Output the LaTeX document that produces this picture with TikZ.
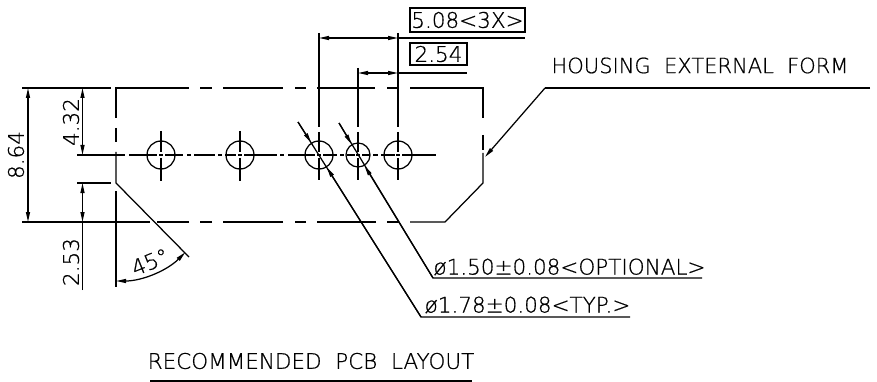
\documentclass[tikz,border=0pt]{standalone}
\usepackage{fontspec}
\setmainfont{DejaVu Sans ExtraLight}[AutoFakeBold=0.7]
\usetikzlibrary{arrows.meta}
\tikzset{
    tip/.style={-{Stealth[inset=0pt,length=10pt,width=4pt]}},
    both/.style={{Stealth[inset=0pt,length=10pt,width=4pt]}-{Stealth[inset=0pt,length=10pt,width=4pt]}},
    hole/.style={circle, draw, inner sep=0pt, minimum size=28pt},
    label/.style={inner sep=0pt, font=\fontsize{21.5}{21.5}\bfseries}
}
\begin{document}
\begin{tikzpicture}[x=1pt, y=-1pt, line width=1.25pt]
    \useasboundingbox (0,0) rectangle (877,382);

    % Fori
    \node (H1) at (161,155) [hole] {};
    \node (H2) at (240,155) [hole] {};
    \node (H3) at (319,155) [hole] {};
    \node (H4) at (358,155) [hole, minimum size=24pt] {};
    \node (H5) at (398,155) [hole] {};

    % Sagoma esterna
    \draw (116,118) -- (116,88) -- (189,88);
    \draw (200,88) -- (212,88);
    \draw (223,88) -- (283,88);
    \draw (295,88) -- (306,88);
    \draw (317,88) -- (375,88);
    \draw (387,88) -- (399,88);
    \draw (410,88) -- (483,88) -- (483,118);
    \draw (483,135) -- (483,150);
    \draw (483,153) -- (483,183) -- (445,222) -- (410,222);
    \draw (399,222) -- (387,222);
    \draw (376,222) -- (317,222);
    \draw (306,222) -- (295,222);
    \draw (283,222) -- (223,222);
    \draw (212,222) -- (200,222);
    \draw (189,222) -- (157,222);
    \draw (150,222) -- (22,222);
    \draw (116,128) -- (116,142);
    \draw (116,152) -- (116,183) -- (189,257);
    \draw (116,191) -- (116,287);

    % Asse dei fori
    \draw (77,155) -- (125,155);
    \draw (129,155) -- (157,155);
    \draw (159,155) -- (163,155);
    \draw (165,155) -- (183,155);
    \draw (187,155) -- (191,155);
    \draw (194,155) -- (215,155);
    \draw (218,155) -- (222,155);
    \draw (225,155) -- (236,155);
    \draw (238,155) -- (242,155);
    \draw (244,155) -- (277,155);
    \draw (280,155) -- (284,155);
    \draw (288,155) -- (315,155);
    \draw (317,155) -- (321,155);
    \draw (323,155) -- (337,155);
    \draw (340,155) -- (344,155);
    \draw (347,155) -- (355,155);
    \draw (356,155) -- (360,155);
    \draw (362,155) -- (370,155);
    \draw (373,155) -- (378,155);
    \draw (381,155) -- (395,155);
    \draw (396,155) -- (400,155);
    \draw (402,155) -- (436,155);

    % Assi verticali
    \draw (161,131) -- (161,152);
    \draw (161,158) -- (161,181);
    \draw (240,131) -- (240,152);
    \draw (240,158) -- (240,181);
    \draw (319,33) -- (319,127);
    \draw (319,132) -- (319,152);
    \draw (319,158) -- (319,180);
    \draw (358,68) -- (358,127);
    \draw (358,132) -- (358,152);
    \draw (358,158) -- (358,180);
    \draw (398,33) -- (398,127);
    \draw (398,132) -- (398,152);
    \draw (398,158) -- (398,180);

    % Quote
    \draw (22,88) -- (111,88);
    \draw [both] (28,88) -- (28,222);
    \draw [both] (82.5,88) -- (82.5,155);
    \draw (77,183) -- (111,183);
    \draw [both] (82.5,222) -- (82.5,183);
    \draw (82.5,290) -- (82.5,222);
    \draw [both] (116,281) arc (90:45:98);
    \draw [both] (319,38) -- (398,38);
    \draw (398,38) -- (525,38);
    \draw [both] (358,73) -- (398,73);
    \draw (398,73) -- (467,73);

    % Richiami
    \coordinate (L1) at (298,122);
    \coordinate (L2) at (421,317);
    \coordinate (L3) at (630,317);
    \coordinate (L4) at (339,123);
    \coordinate (L5) at (433,278);
    \coordinate (L6) at (702,278);
    \draw [tip] (L1) -- (H3);
    \draw [tip] (L2) -- (H3);
    \draw (L1) -- (L2) -- (L3);
    \draw [tip] (L4) -- (H4);
    \draw [tip] (L5) -- (H4);
    \draw (L4) -- (L5) -- (L6);
    \coordinate (L7) at (870,88);
    \coordinate (L8) at (545,88);
    \coordinate (L9) at (485,157);
    \draw (L7) -- (L8);
    \draw [tip] (L8) -- (L9);
    \draw (150,381) -- (472,381);

    % Testi
    \node (T864) at (16,155) [label, rotate=90] {8.64};
    \node (T432) at (71,122) [label, rotate=90] {4.32};
    \node (T253) at (71,262) [label, rotate=90] {2.53};
    \node (T45) at (150,262) [label, rotate=22] {45°};
    \node (T508) at (467.5,20) [label, draw, minimum width=115pt, minimum height=24pt] {5.08<3X>};
    \node (T254) at (438.5,54) [label, draw, minimum width=57pt, minimum height=22pt] {2.54};
    \node (THO) at (700,65.5) [label, font=\fontsize{21}{21}\bfseries] {HOUSING\ \ EXTERNAL\ \ FORM};
    \node (T150) at (569.5,267) [label] {ø1.50±0.08<OPTIONAL>};
    \node (T178) at (527.5,305) [label] {ø1.78±0.08<TYP.>};
    \node (TRE) at (311,361) [label] {RECOMMENDED\ \ PCB\ \ LAYOUT};
\end{tikzpicture}
\end{document}
